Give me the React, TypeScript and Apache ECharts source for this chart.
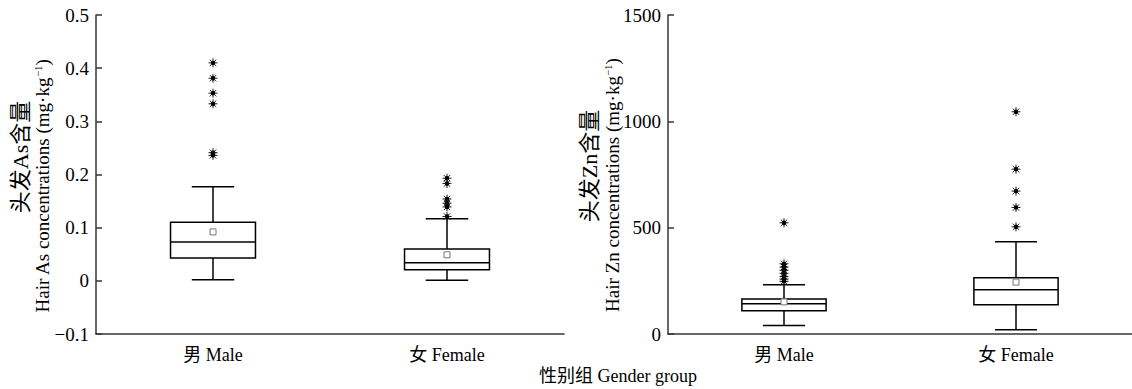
import React, { useEffect, useRef } from "react";
import * as echarts from "echarts";

const categories = ["男 Male", "女 Female"];

// [low whisker, Q1, median, Q3, high whisker]
const asBoxMale = [0.002, 0.043, 0.073, 0.11, 0.177];
const asBoxFemale = [0.001, 0.021, 0.034, 0.06, 0.117];
const asMeans = [0.092, 0.049];
const asOutMale = [0.41, 0.381, 0.353, 0.333, 0.241, 0.236];
const asOutFemale = [0.193, 0.183, 0.154, 0.146, 0.139, 0.121];

const znBoxMale = [40, 109, 142, 164, 231];
const znBoxFemale = [20, 137, 208, 265, 434];
const znMeans = [151, 244];
const znOutMale = [523, 330, 315, 300, 285, 270, 258, 248];
const znOutFemale = [1045, 775, 672, 595, 504];

const asTicks = { min: -0.1, max: 0.5, interval: 0.1 };
const znTicks = { min: 0, max: 1500, interval: 500 };

const FONT = "'Liberation Serif', 'Times New Roman', 'Noto Sans CJK SC', serif";
const AXIS_COLOR = "#3a3536";

function boxRender(params: any, api: any) {
  const x = api.value(0);
  const pLow = api.coord([x, api.value(1)]);
  const pQ1 = api.coord([x, api.value(2)]);
  const pMed = api.coord([x, api.value(3)]);
  const pQ3 = api.coord([x, api.value(4)]);
  const pHigh = api.coord([x, api.value(5)]);
  const pMean = api.coord([x, api.value(6)]);
  const band = api.size([1, 0])[0];
  const bw = band * 0.363;
  const cw = bw / 2;
  const cx = pMed[0];
  const ls = { stroke: "#000", lineWidth: 1.5, fill: null };
  return {
    type: "group",
    children: [
      { type: "line", shape: { x1: cx, y1: pQ3[1], x2: cx, y2: pHigh[1] }, style: ls },
      { type: "line", shape: { x1: cx, y1: pQ1[1], x2: cx, y2: pLow[1] }, style: ls },
      { type: "line", shape: { x1: cx - cw / 2, y1: pHigh[1], x2: cx + cw / 2, y2: pHigh[1] }, style: ls },
      { type: "line", shape: { x1: cx - cw / 2, y1: pLow[1], x2: cx + cw / 2, y2: pLow[1] }, style: ls },
      {
        type: "rect",
        shape: { x: cx - bw / 2, y: pQ3[1], width: bw, height: pQ1[1] - pQ3[1] },
        style: { stroke: "#000", lineWidth: 1.5, fill: "#fff" },
      },
      { type: "line", shape: { x1: cx - bw / 2, y1: pMed[1], x2: cx + bw / 2, y2: pMed[1] }, style: ls },
      {
        type: "rect",
        shape: { x: cx - 3, y: pMean[1] - 3, width: 6, height: 6 },
        style: { stroke: "#777", lineWidth: 1, fill: "#fff" },
      },
    ],
  };
}

function outlierRender(params: any, api: any) {
  const p = api.coord([api.value(0), api.value(1)]);
  const r = 4.5;
  const d = r * 0.72;
  const ls = { stroke: "#222", lineWidth: 1 };
  return {
    type: "group",
    children: [
      { type: "line", shape: { x1: p[0] - r, y1: p[1], x2: p[0] + r, y2: p[1] }, style: ls },
      { type: "line", shape: { x1: p[0], y1: p[1] - r, x2: p[0], y2: p[1] + r }, style: ls },
      { type: "line", shape: { x1: p[0] - d, y1: p[1] - d, x2: p[0] + d, y2: p[1] + d }, style: ls },
      { type: "line", shape: { x1: p[0] - d, y1: p[1] + d, x2: p[0] + d, y2: p[1] - d }, style: ls },
      { type: "circle", shape: { cx: p[0], cy: p[1], r: 2.2 }, style: { fill: "#000" } },
    ],
  };
}

function boxData(male: number[], female: number[], means: number[]) {
  return [
    [0, ...male, means[0]],
    [1, ...female, means[1]],
  ];
}

function outData(male: number[], female: number[]) {
  return [...male.map((v) => [0, v]), ...female.map((v) => [1, v])];
}

function xAxisDef(gridIndex: number) {
  return {
    type: "category",
    gridIndex,
    data: categories,
    boundaryGap: true,
    axisLine: { onZero: false, lineStyle: { color: AXIS_COLOR, width: 1.5 } },
    axisTick: { inside: true, length: 6, lineStyle: { color: AXIS_COLOR, width: 1.5 } },
    axisLabel: { fontSize: 18, color: "#000", fontFamily: FONT, margin: 12 },
    splitLine: { show: false },
  };
}

function yAxisDef(gridIndex: number, t: { min: number; max: number; interval: number }) {
  return {
    type: "value",
    gridIndex,
    min: t.min,
    max: t.max,
    interval: t.interval,
    axisLine: { show: true, onZero: false, lineStyle: { color: AXIS_COLOR, width: 1.5 } },
    axisTick: { show: true, inside: true, length: 6, lineStyle: { color: AXIS_COLOR, width: 1.5 } },
    axisLabel: {
      fontSize: 19,
      color: "#000",
      fontFamily: FONT,
      margin: 7,
      formatter: (v: number) => {
        const s = String(Math.round(v * 1000) / 1000);
        return s.replace("-", "\u2212");
      },
    },
    splitLine: { show: false },
  };
}

function nameText(x: number, y: number, text: string, size: number, rich?: any) {
  return {
    type: "text",
    x,
    y,
    rotation: Math.PI / 2,
    style: {
      text,
      fontSize: size,
      fontFamily: FONT,
      fill: "#000",
      align: "center",
      verticalAlign: "middle",
      rich,
    },
  };
}

export default function App() {
  const ref = useRef<HTMLDivElement>(null);
  useEffect(() => {
    if (!ref.current) return;
    const chart = echarts.init(ref.current, undefined, { renderer: "svg" });
    const supRich = {
      sup: { fontSize: 11, verticalAlign: "top", fontFamily: FONT, fill: "#000", padding: [0, 0, 8, 0] },
    };
    chart.setOption({
      animation: false,
      backgroundColor: "#fff",
      grid: [
        { left: 96, top: 15, width: 468, height: 319 },
        { left: 668, top: 15, width: 468, height: 319 },
      ],
      xAxis: [xAxisDef(0), xAxisDef(1)],
      yAxis: [yAxisDef(0, asTicks), yAxisDef(1, znTicks)],
      series: [
        {
          type: "custom",
          xAxisIndex: 0,
          yAxisIndex: 0,
          renderItem: boxRender,
          encode: { x: 0, y: [1, 2, 3, 4, 5] },
          data: boxData(asBoxMale, asBoxFemale, asMeans),
        },
        {
          type: "custom",
          xAxisIndex: 0,
          yAxisIndex: 0,
          renderItem: outlierRender,
          encode: { x: 0, y: 1 },
          data: outData(asOutMale, asOutFemale),
        },
        {
          type: "custom",
          xAxisIndex: 1,
          yAxisIndex: 1,
          renderItem: boxRender,
          encode: { x: 0, y: [1, 2, 3, 4, 5] },
          data: boxData(znBoxMale, znBoxFemale, znMeans),
        },
        {
          type: "custom",
          xAxisIndex: 1,
          yAxisIndex: 1,
          renderItem: outlierRender,
          encode: { x: 0, y: 1 },
          data: outData(znOutMale, znOutFemale),
        },
      ],
      graphic: [
        nameText(20, 157, "头发As含量", 22),
        nameText(42, 186, "Hair As concentrations (mg·kg{sup|\u22121})", 19, supRich),
        nameText(589, 166, "头发Zn含量", 22),
        nameText(612, 185, "Hair Zn concentrations (mg·kg{sup|\u22121})", 19, supRich),
        {
          type: "text",
          x: 618,
          y: 376,
          style: {
            text: "性别组 Gender group",
            fontSize: 18,
            fontFamily: FONT,
            fill: "#000",
            align: "center",
            verticalAlign: "middle",
          },
        },
      ],
    });
    return () => chart.dispose();
  }, []);
  return (
    <div
      ref={ref}
      style={{ position: "fixed", left: 0, top: 0, width: 1132, height: 389, background: "#fff" }}
    />
  );
}
